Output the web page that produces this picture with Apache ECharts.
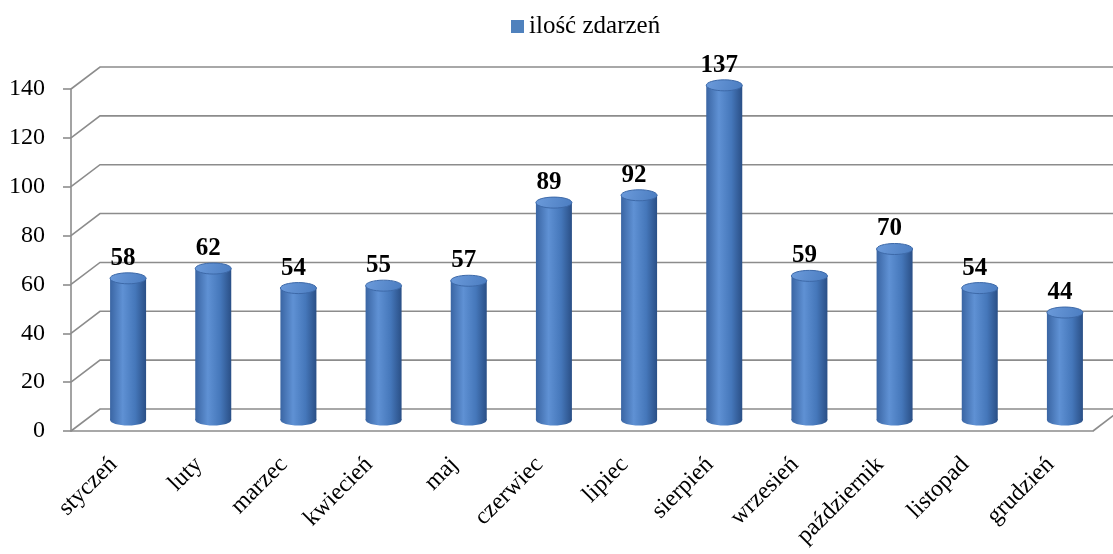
<!DOCTYPE html>
<html>
<head>
<meta charset="utf-8">
<script src="https://cdn.jsdelivr.net/npm/echarts@6/dist/echarts.min.js"></script>
<style>
  html, body { margin: 0; padding: 0; background: #fff; }
  #main { width: 1113px; height: 554px; }
</style>
</head>
<body>
<div id="main"></div>
<script>
var categories = ['styczeń', 'luty', 'marzec', 'kwiecień', 'maj', 'czerwiec', 'lipiec', 'sierpień', 'wrzesień', 'październik', 'listopad', 'grudzień'];
var values = [58, 62, 54, 55, 57, 89, 92, 137, 59, 70, 54, 44];
var yTicks = [0, 20, 40, 60, 80, 100, 120, 140];

(function () {
    var myChart = echarts.init(document.getElementById('main'));
    var DX = 29, DY = 22;   // depth of the 3d box
    var lineColor = '#8c8c8c';
    var font = '"Liberation Serif", "Times New Roman", serif';

    function renderWalls(params, api) {
        var cs = params.coordSys;
        var v = api.value(1);
        var y = api.coord([0, v])[1];
        var children = [{
            type: 'polyline',
            shape: { points: [[cs.x, y], [cs.x + DX, y - DY], [cs.x + cs.width + DX, y - DY]] },
            style: { stroke: lineColor, lineWidth: 1.6, fill: null }
        }];
        if (v === 0) {
            children.push({
                type: 'line',
                shape: { x1: cs.x + cs.width, y1: y, x2: cs.x + cs.width + DX, y2: y - DY },
                style: { stroke: lineColor, lineWidth: 1.6 }
            });
        }
        return { type: 'group', children: children };
    }

    function renderCylinder(params, api) {
        var idx = api.value(0), v = api.value(1);
        var base = api.coord([idx, 0]);
        var top = api.coord([idx, v]);
        var cx = base[0] + DX / 2;
        var yb = base[1] - DY / 2;
        var yt = top[1] - DY / 2;
        var w = 36, ry = 5.5;
        var bodyFill = {
            type: 'linear', x: 0, y: 0, x2: 1, y2: 0,
            colorStops: [
                { offset: 0, color: '#3a65a3' },
                { offset: 0.35, color: '#5f91d4' },
                { offset: 0.7, color: '#4577ba' },
                { offset: 1, color: '#2a4f86' }
            ]
        };
        var topFill = {
            type: 'linear', x: 0, y: 0, x2: 1, y2: 1,
            colorStops: [
                { offset: 0, color: '#6c9bdb' },
                { offset: 1, color: '#4a7cc0' }
            ]
        };
        return {
            type: 'group',
            children: [
                { type: 'ellipse', shape: { cx: cx, cy: yb, rx: w / 2, ry: ry }, style: { fill: bodyFill } },
                { type: 'rect', shape: { x: cx - w / 2, y: yt, width: w, height: yb - yt }, style: { fill: bodyFill } },
                { type: 'ellipse', shape: { cx: cx, cy: yt, rx: w / 2, ry: ry }, style: { fill: topFill, stroke: '#3d69a8', lineWidth: 1 } },
                {
                    type: 'text',
                    style: {
                        text: String(v), x: cx - 5, y: yt - ry - 2,
                        align: 'center', verticalAlign: 'bottom',
                        font: 'bold 25px ' + font, fill: '#000'
                    }
                }
            ]
        };
    }

    var option = {
        animation: false,
        legend: {
            data: [{ name: 'ilość zdarzeń', icon: 'rect', itemStyle: { color: '#4f81bd' } }],
            left: 506,
            top: 9,
            itemWidth: 13,
            itemHeight: 13,
            itemGap: 6,
            textStyle: { fontFamily: font, fontSize: 25, color: '#000' }
        },
        grid: {
            left: 71,
            right: 20,
            top: 89,
            bottom: 123,
            containLabel: false,
            outerBoundsMode: 'none'
        },
        xAxis: {
            type: 'category',
            data: categories,
            axisLine: { lineStyle: { color: lineColor, width: 1.6 } },
            axisTick: { length: 6, lineStyle: { color: lineColor, width: 1.6 } },
            axisLabel: {
                interval: 0, rotate: 45, margin: 30,
                fontFamily: font, fontSize: 24, color: '#000'
            }
        },
        yAxis: {
            type: 'value',
            min: 0,
            max: 140,
            interval: 20,
            splitLine: { show: false },
            axisLine: { show: true, lineStyle: { color: lineColor, width: 1.6 } },
            axisTick: { show: true, length: 8, lineStyle: { color: lineColor, width: 1.6 } },
            axisLabel: { margin: 26, fontFamily: font, fontSize: 24, color: '#000' }
        },
        series: [{
            name: 'walls',
            type: 'custom',
            renderItem: renderWalls,
            data: yTicks.map(function (t) { return [0, t]; }),
            z: 1,
            silent: true
        }, {
            name: 'ilość zdarzeń',
            type: 'custom',
            renderItem: renderCylinder,
            itemStyle: { color: '#4f81bd' },
            encode: { x: 0, y: 1 },
            data: values.map(function (v, i) { return [i, v]; }),
            z: 3
        }]
    };

    myChart.setOption(option);
})();
</script>
</body>
</html>
